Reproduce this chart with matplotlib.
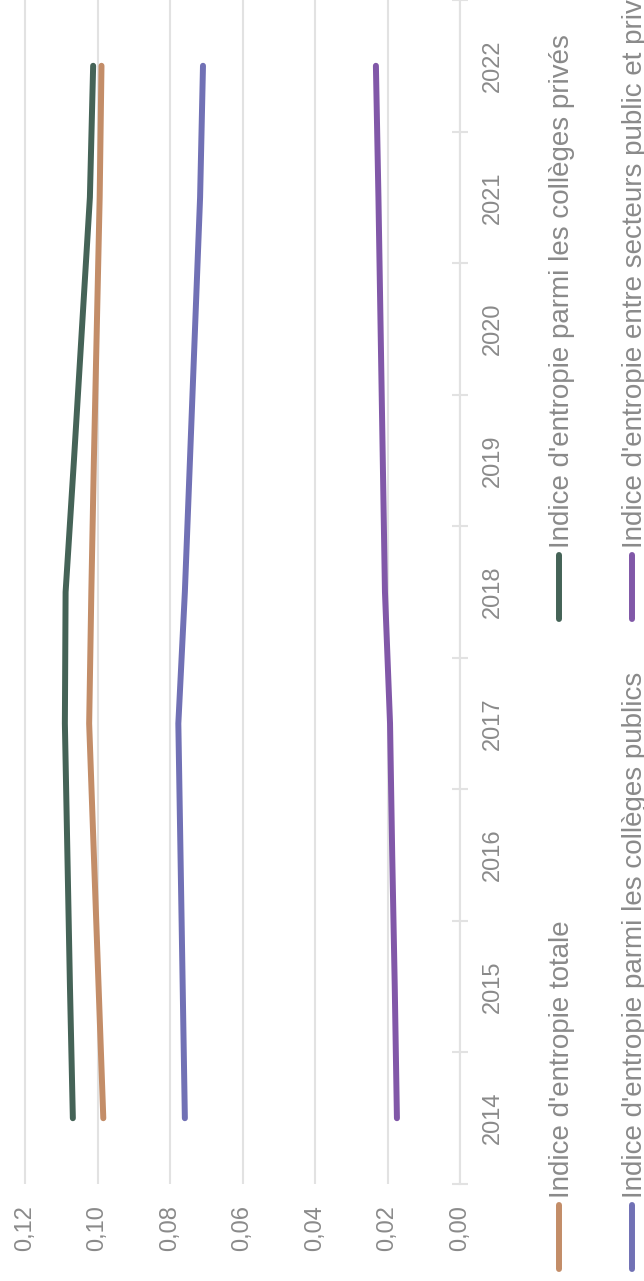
import matplotlib
matplotlib.use("Agg")
import matplotlib.pyplot as plt
from matplotlib.lines import Line2D
from matplotlib.ticker import FixedLocator, FuncFormatter

plt.rcParams['font.family'] = ['Liberation Sans', 'DejaVu Sans']

# Data
years = [2014, 2015, 2016, 2017, 2018, 2019, 2020, 2021, 2022]
entropie_totale = [0.0984, 0.0997, 0.1010, 0.1023, 0.1017, 0.1010, 0.1002, 0.0994, 0.0989]
entropie_prives = [0.1068, 0.1076, 0.1083, 0.1090, 0.1088, 0.1065, 0.1043, 0.1021, 0.1012]
entropie_publics = [0.0759, 0.0765, 0.0771, 0.0777, 0.0759, 0.0745, 0.0731, 0.0717, 0.0709]
entropie_secteurs = [0.0174, 0.0180, 0.0187, 0.0193, 0.0207, 0.0213, 0.0219, 0.0225, 0.0232]
value_ticks = [0.00, 0.02, 0.04, 0.06, 0.08, 0.10, 0.12]

series = [
    ("Indice d'entropie totale", entropie_totale, '#c38d68'),
    ("Indice d'entropie parmi les collèges privés", entropie_prives, '#456357'),
    ("Indice d'entropie parmi les collèges publics", entropie_publics, '#7171b5'),
    ("Indice d'entropie entre secteurs public et privé", entropie_secteurs, '#8158a8'),
]

grey = '#8a8a8a'
grid_col = '#e2e2e2'

W, H = 644, 1281
fig = plt.figure(figsize=(W / 100, H / 100), dpi=100)
# chart is drawn turned a quarter turn: values run right-to-left, years bottom-to-top
ax = fig.add_axes([0, (H - 1184) / H, 460 / W, 1184 / H])

for name, vals, col in series:
    ax.plot(vals, years, color=col, lw=4.3, solid_capstyle='round', solid_joinstyle='round', zorder=3)

ax.set_xlim(460 / 3625, 0)
ax.set_ylim(years[0] - 0.5, years[-1] + 0.5)

for s in ['left', 'top', 'bottom']:
    ax.spines[s].set_visible(False)
ax.spines['right'].set_color(grid_col)
ax.spines['right'].set_linewidth(1.5)

ax.xaxis.set_major_locator(FixedLocator(value_ticks))
ax.xaxis.set_major_formatter(FuncFormatter(lambda v, p: f"{v:.2f}".replace('.', ',')))
ax.grid(axis='x', color=grid_col, lw=1.5, zorder=0)
ax.tick_params(axis='x', length=0, pad=15, labelsize=17, labelcolor=grey, labelrotation=90)

ax.yaxis.tick_right()
ax.yaxis.set_major_locator(FixedLocator(years))
ax.yaxis.set_minor_locator(FixedLocator([y - 0.5 for y in years] + [years[-1] + 0.5]))
ax.set_yticklabels([str(y) for y in years], rotation=90, va='center')
ax.tick_params(axis='y', which='major', length=0, pad=16, labelsize=17, labelcolor=grey)
ax.tick_params(axis='y', which='minor', direction='inout', length=11.5, width=1.5, color=grid_col)

# legend, drawn by hand because it is turned too
legend_pos = [(559, 1269), (559, 619), (632, 1269), (632, 619)]
for (name, vals, col), (lx, ly) in zip(series, legend_pos):
    fig.add_artist(Line2D([lx / W, lx / W], [1 - ly / H, 1 - (ly - 64) / H],
                          color=col, lw=4.3, solid_capstyle='round'))
    fig.text((lx + 10) / W, 1 - (ly - 71) / H, name, rotation=90, rotation_mode='anchor',
             ha='left', va='baseline', fontsize=20, color=grey)

fig.savefig('out.png', dpi=100)
